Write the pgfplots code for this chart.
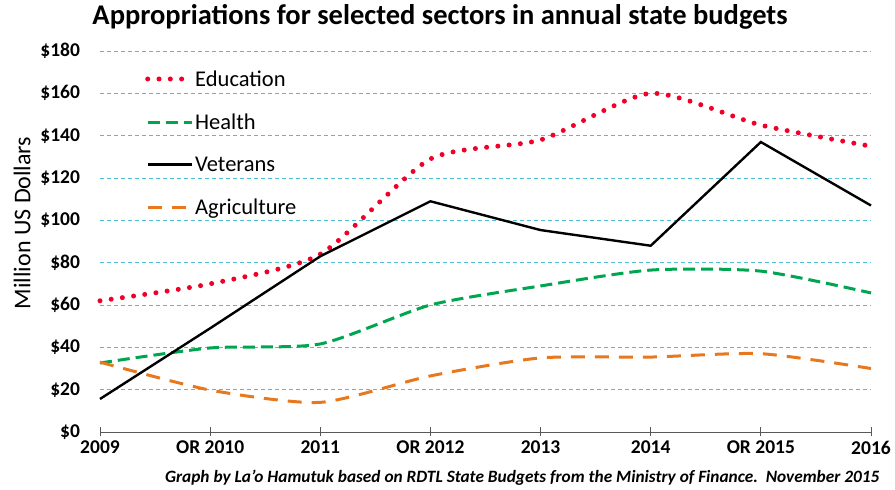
\documentclass[border=0pt]{standalone}
\usepackage{pgfplots}
\pgfplotsset{compat=1.18}
\usepackage{fontspec}
\setmainfont{Carlito}
\definecolor{edu}{RGB}{240,0,40}
\definecolor{hea}{RGB}{0,165,80}
\definecolor{agr}{RGB}{232,120,30}
\definecolor{grd}{RGB}{80,190,210}
\begin{document}
\begin{tikzpicture}
\useasboundingbox (-100pt,-58pt) rectangle (795pt,432pt);
\begin{axis}[
  scale only axis,
  width=771pt, height=381pt,
  xmin=0, xmax=7, ymin=0, ymax=180,
  xtick={0,...,7},
  xticklabels={2009,OR 2010,2011,OR 2012,2013,2014,OR 2015,2016},
  ytick={0,20,...,180},
  yticklabel={\$\pgfmathprintnumber{\tick}},
  axis x line*=bottom,
  axis y line*=left,
  y axis line style={draw=none},
  x axis line style={draw=black!65, line width=0.8pt, -},
  xtick style={draw=black!65, line width=0.8pt},
  major tick length=9pt,
  tick align=center,
  ymajorgrids,
  major grid style={grd, dash pattern=on 4pt off 3pt, line width=0.7pt},
  ytick style={draw=none},
  tick label style={font=\fontsize{19.5}{19.5}\selectfont\bfseries},
  /pgf/number format/assume math mode=true,
  yticklabel style={anchor=east, xshift=-12pt},
  xticklabel style={yshift=-1pt},
  clip=false,
  title={Appropriations for selected sectors in annual state budgets},
  title style={font=\fontsize{28.5}{28.5}\selectfont\bfseries, at={(axis description cs:0.441,1)}, anchor=center, yshift=28pt},
  ylabel={Million US Dollars},
  every axis y label/.style={at={(axis description cs:-0.101,0.549)}, rotate=90, anchor=center,
    font=\fontsize{24}{24}\selectfont},
  legend style={at={(axis description cs:0.0545,0.96)}, anchor=north west, draw=none, fill=none,
    font=\fontsize{22.5}{22.5}\selectfont, row sep=22pt, legend cell align=left,
    nodes={inner xsep=1pt}},
  legend image code/.code={\draw[#1] (0pt,0pt) -- (44pt,0pt);},
]
% Education
\addplot[edu, line width=5pt, line cap=round, dash pattern=on 0pt off 11.3pt, smooth, tension=0.4]
coordinates {(0,62) (1,70) (2,84) (3,129) (4,138) (5,160) (6,145) (7,135)};
% Health
\addplot[hea, line width=3pt, dash pattern=on 12pt off 6pt, smooth, tension=0.4]
coordinates {(0,32.6) (1,39.7) (2,41.6) (3,60) (4,69) (5,76.5) (6,76) (7,65.7)};
% Veterans
\addplot[black, line width=2.4pt]
coordinates {(0,15.6) (1,49) (2,83) (3,109) (4,95.4) (5,88) (6,137) (7,107)};
% Agriculture
\addplot[agr, line width=3pt, dash pattern=on 14pt off 10pt, smooth, tension=0.4]
coordinates {(0,33) (1,19.8) (2,14) (3,26.5) (4,35) (5,35.4) (6,37) (7,30)};
\legend{Education, Health, Veterans, Agriculture}
\end{axis}
\node[anchor=east, font=\fontsize{17.3}{17.3}\selectfont\bfseries\itshape] at (783pt,-46pt)
  {Graph by La'o Hamutuk based on RDTL State Budgets from the Ministry of Finance.\ \ November 2015};
\end{tikzpicture}
\end{document}
